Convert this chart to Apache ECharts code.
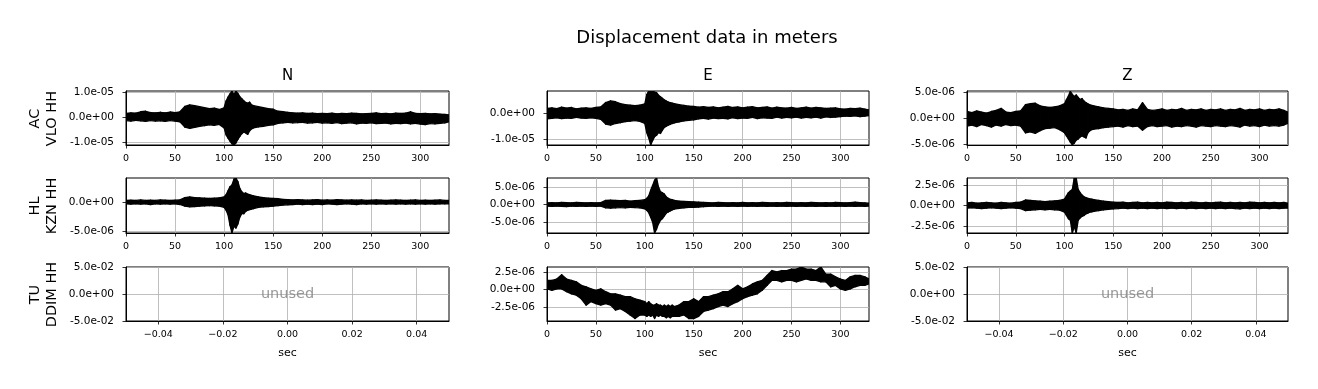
<!DOCTYPE html>
<html><head><meta charset="utf-8">
<script src="https://cdn.jsdelivr.net/npm/echarts@6/dist/echarts.min.js"></script>
<style>html,body{margin:0;padding:0;background:#fff}#c{width:1318px;height:389px}</style>
</head><body><div id="c"></div><script>
// time samples (sec)
const T = [0,5,10,15,20,25,30,35,40,45,50,55,60,65,70,75,80,85,90,95,
  100,102,104,106,108,110,112,114,116,118,120,122,124,126,128,130,
  135,140,145,150,155,160,165,170,175,180,185,190,195,200,205,210,215,220,225,230,
  235,240,245,250,255,260,265,270,275,280,285,290,295,300,305,310,315,320,325,329];
// envelope values (micrometres)
const acN_up = [1.6,1.8,1.7,2.2,2.4,1.9,1.8,2.0,1.8,2.1,1.9,2.2,4.3,4.9,4.6,4.2,3.8,3.4,3.6,3.1,
  3.8,6.5,8.0,9.3,10.4,9.0,10.4,9.5,8.2,7.4,6.6,5.9,5.6,6.0,4.9,4.6,
  4.2,3.8,3.4,3.2,2.4,2.2,2.0,1.8,1.7,1.8,1.6,1.7,1.5,1.6,
  1.5,1.7,1.4,1.6,1.5,1.7,1.6,1.4,1.5,1.6,1.8,1.5,1.6,1.4,1.7,1.6,1.7,2.2,1.6,1.5,1.6,1.4,1.5,1.3,1.2,1.0];
const acN_lo = [-1.3,-1.5,-1.2,-1.4,-1.6,-1.3,-1.5,-1.4,-1.6,-1.3,-1.5,-1.8,-3.9,-4.4,-4.0,-3.6,-3.3,-3.0,-3.2,-2.8,
  -4.2,-7.0,-8.3,-9.5,-10.5,-11.0,-10.2,-8.8,-7.6,-6.5,-5.8,-6.2,-6.8,-5.4,-4.6,-4.2,
  -3.8,-3.6,-3.2,-3.0,-2.4,-2.2,-2.0,-2.2,-2.1,-2.0,-2.3,-2.2,-2.0,-2.3,
  -2.2,-2.4,-2.1,-2.5,-2.3,-2.2,-2.6,-2.3,-2.4,-2.2,-2.5,-2.4,-2.3,-2.6,-2.4,-2.5,-2.3,-2.6,-2.4,-2.7,-2.9,-2.5,-2.6,-2.4,-2.2,-1.8];
const acE_up = [1.8,2.0,1.7,2.2,1.9,2.1,1.6,1.9,2.0,1.8,2.1,2.3,4.0,4.6,4.3,3.6,3.2,3.0,2.8,3.0,
  3.5,7.0,8.4,8.4,8.4,8.0,7.8,6.8,6.2,5.6,5.0,4.6,4.2,4.0,3.8,3.6,
  3.2,2.9,2.6,2.5,2.2,2.4,2.1,2.3,2.0,2.2,2.5,2.1,2.3,2.0,2.2,2.4,2.0,2.1,2.3,1.9,
  2.2,2.0,1.9,2.1,1.8,2.0,2.2,1.9,2.1,2.0,1.8,1.9,2.0,1.6,1.5,1.8,1.7,1.9,1.5,1.2];
const acE_lo = [-2.2,-2.0,-1.8,-2.1,-1.9,-2.0,-1.7,-1.9,-2.0,-1.8,-2.0,-2.4,-4.2,-4.6,-4.0,-3.7,-3.3,-3.1,-2.9,-3.2,
  -4.0,-7.5,-9.5,-12.2,-10.5,-9.0,-8.5,-7.5,-7.8,-6.5,-5.5,-5.0,-4.6,-4.3,-4.0,-3.8,
  -3.4,-3.0,-2.8,-2.6,-2.2,-2.0,-2.3,-1.9,-2.1,-2.0,-2.2,-1.8,-2.1,-1.9,-2.0,-1.7,-2.1,-1.8,-1.9,-2.0,
  -1.6,-1.9,-1.7,-1.8,-1.6,-1.9,-1.7,-1.8,-1.6,-1.9,-1.5,-1.7,-1.6,-1.4,-1.2,-1.3,-1.1,-1.4,-1.2,-1.0];
const acZ_up = [1.3,1.1,1.4,1.2,1.0,1.3,1.5,1.9,1.2,1.1,1.3,1.4,2.6,2.8,2.9,2.4,2.2,2.1,2.2,2.4,
  2.8,3.6,4.3,5.2,4.6,4.2,4.5,4.0,3.6,3.8,3.3,3.0,2.8,2.6,2.5,2.4,
  2.2,2.0,1.9,1.8,1.6,1.7,1.5,1.8,1.6,3.0,1.7,1.5,1.6,1.8,1.5,1.7,1.6,1.9,1.5,1.7,
  1.6,1.8,1.5,1.7,1.6,1.8,1.5,1.7,1.6,1.9,1.5,1.7,1.6,1.8,1.5,1.7,1.6,1.8,1.5,1.2];
const acZ_lo = [-1.5,-1.3,-1.6,-1.2,-1.4,-1.7,-1.3,-1.5,-1.2,-1.4,-1.3,-1.5,-2.8,-2.6,-2.9,-2.4,-2.0,-1.9,-1.8,-2.2,
  -2.8,-3.4,-4.0,-4.6,-5.1,-4.8,-4.2,-4.0,-3.6,-3.4,-3.6,-3.8,-2.8,-2.4,-2.2,-2.1,
  -2.0,-1.8,-1.7,-1.6,-1.5,-1.7,-1.4,-1.6,-1.5,-2.3,-1.6,-1.4,-1.6,-1.5,-1.4,-1.7,-1.5,-1.6,-1.4,-1.5,
  -1.7,-1.4,-1.5,-1.6,-1.4,-1.5,-1.6,-1.4,-1.5,-1.7,-1.3,-1.5,-1.4,-1.6,-1.3,-1.5,-1.4,-1.5,-1.3,-1.0];
const hlN_up = [0.3,0.35,0.3,0.4,0.3,0.35,0.3,0.4,0.35,0.3,0.35,0.4,0.8,0.9,0.8,0.75,0.7,0.65,0.7,0.75,
  0.9,1.3,2.0,2.7,3.0,4.0,4.2,3.6,2.4,1.8,1.5,1.6,1.4,1.3,1.2,1.1,
  0.9,0.8,0.7,0.65,0.6,0.5,0.45,0.4,0.45,0.4,0.35,0.4,0.45,0.35,0.4,0.35,0.45,0.4,0.35,0.4,
  0.35,0.4,0.3,0.35,0.4,0.35,0.3,0.35,0.4,0.35,0.3,0.35,0.4,0.3,0.35,0.3,0.35,0.4,0.3,0.3];
const hlN_lo = [-0.3,-0.35,-0.3,-0.35,-0.3,-0.4,-0.3,-0.35,-0.3,-0.35,-0.3,-0.4,-0.7,-0.8,-0.75,-0.7,-0.65,-0.6,-0.65,-0.7,
  -0.9,-1.4,-2.2,-4.0,-5.3,-4.2,-4.5,-3.8,-2.6,-2.0,-2.0,-1.6,-1.4,-1.3,-1.2,-1.1,
  -0.9,-0.8,-0.75,-0.7,-0.6,-0.5,-0.45,-0.4,-0.35,-0.4,-0.35,-0.4,-0.35,-0.4,-0.3,-0.35,-0.4,-0.35,-0.3,-0.35,
  -0.4,-0.3,-0.35,-0.3,-0.35,-0.3,-0.35,-0.3,-0.35,-0.3,-0.35,-0.3,-0.35,-0.3,-0.35,-0.3,-0.35,-0.3,-0.3,-0.3];
const hlE_up = [0.5,0.55,0.5,0.6,0.55,0.5,0.6,0.55,0.5,0.55,0.5,0.55,1.2,1.3,1.2,1.1,1.2,1.0,1.1,1.2,
  1.4,1.8,2.5,4.1,5.5,7.0,7.6,5.0,3.7,3.4,3.0,2.2,1.8,1.5,1.4,1.2,
  1.0,0.9,0.85,0.8,0.7,0.6,0.55,0.5,0.6,0.55,0.5,0.55,0.5,0.6,0.5,0.55,0.5,0.6,0.55,0.5,
  0.55,0.5,0.6,0.55,0.5,0.55,0.5,0.6,0.55,0.5,0.55,0.5,0.6,0.55,0.5,0.55,0.7,0.55,0.5,0.4];
const hlE_lo = [-0.45,-0.5,-0.45,-0.5,-0.55,-0.45,-0.5,-0.45,-0.5,-0.45,-0.5,-0.45,-0.9,-1.0,-0.9,-0.85,-0.9,-0.8,-0.85,-0.9,
  -1.2,-1.6,-2.3,-3.6,-5.0,-8.1,-7.0,-5.5,-4.5,-4.0,-3.2,-2.4,-2.1,-1.8,-1.5,-1.3,
  -1.1,-0.9,-0.8,-0.75,-0.7,-0.6,-0.5,-0.45,-0.5,-0.45,-0.5,-0.45,-0.5,-0.45,-0.5,-0.45,-0.5,-0.45,-0.5,-0.45,
  -0.5,-0.45,-0.5,-0.45,-0.5,-0.45,-0.5,-0.45,-0.5,-0.45,-0.5,-0.45,-0.5,-0.45,-0.5,-0.45,-0.5,-0.45,-0.5,-0.4];
const hlZ_up = [0.35,0.4,0.3,0.35,0.4,0.35,0.3,0.4,0.35,0.3,0.4,0.45,0.7,0.65,0.6,0.55,0.5,0.55,0.6,0.65,
  0.8,1.2,1.6,1.8,2.0,3.4,3.4,2.0,1.6,1.3,1.1,1.0,0.9,0.85,0.8,0.75,
  0.65,0.55,0.5,0.45,0.4,0.45,0.35,0.4,0.45,0.35,0.4,0.35,0.4,0.35,0.45,0.4,0.35,0.4,0.35,0.45,
  0.4,0.35,0.4,0.35,0.4,0.45,0.35,0.4,0.35,0.4,0.35,0.45,0.4,0.35,0.4,0.35,0.4,0.35,0.4,0.3];
const hlZ_lo = [-0.3,-0.25,-0.3,-0.35,-0.3,-0.25,-0.3,-0.35,-0.3,-0.25,-0.3,-0.35,-0.6,-0.55,-0.5,-0.45,-0.5,-0.45,-0.5,-0.55,
  -0.8,-1.2,-1.6,-1.8,-3.35,-2.6,-3.35,-1.8,-1.5,-1.3,-1.2,-1.0,-0.9,-0.8,-0.75,-0.7,
  -0.6,-0.5,-0.45,-0.4,-0.35,-0.3,-0.35,-0.3,-0.35,-0.3,-0.35,-0.3,-0.35,-0.3,-0.35,-0.3,-0.35,-0.3,-0.35,-0.3,
  -0.35,-0.3,-0.35,-0.3,-0.35,-0.3,-0.35,-0.3,-0.35,-0.4,-0.3,-0.35,-0.3,-0.35,-0.3,-0.35,-0.3,-0.35,-0.3,-0.3];
const tuE_up = [1.3,1.3,1.5,2.1,1.5,1.3,1.1,0.6,0.4,0.1,-0.1,0.1,-0.3,-0.6,-0.6,-0.8,-1.0,-1.0,-1.3,-1.5,
  -1.7,-2.0,-1.7,-2.0,-2.2,-2.2,-2.0,-2.2,-2.2,-2.4,-2.2,-2.4,-2.2,-2.4,-2.2,-2.4,
  -2.2,-1.7,-1.7,-1.3,-1.7,-1.0,-1.0,-0.8,-0.6,-0.3,-0.3,0.1,0.6,0.1,0.4,0.8,1.1,1.3,2.0,2.7,
  2.5,2.7,2.7,2.9,2.9,3.2,2.9,2.9,2.7,3.2,2.2,2.2,1.8,1.5,1.3,1.8,2.0,2.0,1.8,1.5];
const tuE_lo = [0.1,-0.1,0.1,0.1,-0.3,-0.6,-0.8,-1.3,-2.2,-1.7,-2.0,-2.2,-2.0,-2.2,-2.9,-2.7,-3.1,-3.6,-4.1,-3.6,
  -3.6,-3.8,-3.6,-3.8,-3.6,-4.1,-3.6,-3.8,-3.6,-3.8,-3.8,-4.0,-3.8,-4.0,-3.8,-3.8,
  -3.8,-3.6,-4.1,-4.1,-3.8,-3.1,-2.9,-2.7,-2.4,-2.2,-2.4,-2.0,-1.7,-1.3,-1.0,-0.8,-0.6,-0.1,0.6,1.3,
  1.3,1.1,1.3,1.3,1.1,1.3,1.5,1.3,1.3,1.1,1.1,0.4,0.6,0.1,-0.1,0.1,0.4,0.6,0.6,0.8];
const UNIT = 1e-6;

// tick values
const xTicksData = [0,50,100,150,200,250,300];
const xTicksUnused = [-0.04,-0.02,0,0.02,0.04];
const colTitles = ['N','E','Z'];
const rowLabels = ['AC\nVLO HH','HL\nKZN HH','TU\nDDIM HH'];

const panels = [
  {up:acN_up, lo:acN_lo, ymin:-1.1e-5, ymax:1.045e-5, yt:[-1e-5,0,1e-5]},
  {up:acE_up, lo:acE_lo, ymin:-1.22e-5, ymax:8.4e-6, yt:[-1e-5,0]},
  {up:acZ_up, lo:acZ_lo, ymin:-5.15e-6, ymax:5.25e-6, yt:[-5e-6,0,5e-6]},
  {up:hlN_up, lo:hlN_lo, ymin:-5.35e-6, ymax:4.2e-6, yt:[-5e-6,0]},
  {up:hlE_up, lo:hlE_lo, ymin:-8.1e-6, ymax:7.6e-6, yt:[-5e-6,0,5e-6]},
  {up:hlZ_up, lo:hlZ_lo, ymin:-3.35e-6, ymax:3.4e-6, yt:[-2.5e-6,0,2.5e-6]},
  {unused:true},
  {up:tuE_up, lo:tuE_lo, ymin:-4.45e-6, ymax:3.2e-6, yt:[-2.5e-6,0,2.5e-6]},
  {unused:true}
];

const FONT = 'DejaVu Sans';
const colLeft = [126, 547, 967], colWidth = [323, 322, 321];
const rowTop = [91, 178, 267], rowHeight = [54, 55, 54];

function efmt(v){
  let s = Number(v).toExponential(1);
  let parts = s.split('e');
  let sign = parts[1][0]; let d = parts[1].slice(1);
  if (d.length < 2) d = '0' + d;
  return parts[0] + 'e' + sign + d;
}
function ufmt(v){ return Number(v).toFixed(2).replace('-', '\u2212'); }

function bandItem(params, api){
  const a = api.coord([api.value(0), api.value(2)]);
  const b = api.coord([api.value(1), api.value(3)]);
  const c = api.coord([api.value(1), api.value(5)]);
  const d = api.coord([api.value(0), api.value(4)]);
  return {type:'polygon', shape:{points:[a,b,c,d]},
    style:{fill:'#000', stroke:'#000', lineWidth:1.3, lineJoin:'round'}};
}

const grids = [], xAxes = [], yAxes = [], series = [];
const gridLine = {show:true, lineStyle:{color:'#b0b0b0', width:0.8}};
panels.forEach((p, i) => {
  const r = Math.floor(i/3), c = i%3;
  grids.push({left:colLeft[c], top:rowTop[r], width:colWidth[c], height:rowHeight[r],
    show:true, borderColor:'#000', borderWidth:1, backgroundColor:'#fff', containLabel:false});
  const xt = p.unused ? xTicksUnused : xTicksData;
  xAxes.push({type:'value', gridIndex:i,
    min: p.unused ? -0.05 : 0, max: p.unused ? 0.05 : 329.2,
    axisLine:{show:true, onZero:false, lineStyle:{color:'#000', width:1}},
    axisTick:{show:true, length:3.5, lineStyle:{color:'#000', width:0.8}, customValues:xt},
    axisLabel:{show:true, customValues:xt, formatter: p.unused ? ufmt : (v => String(v)),
      fontSize:9.5, fontFamily:FONT, color:'#000', margin:9},
    splitLine: gridLine});
  const yt = p.unused ? [-0.05,0,0.05] : p.yt;
  yAxes.push({type:'value', gridIndex:i,
    min: p.unused ? -0.05 : p.ymin, max: p.unused ? 0.05 : p.ymax,
    axisLine:{show:true, onZero:false, lineStyle:{color:'#000', width:1}},
    axisTick:{show:true, length:3.5, lineStyle:{color:'#000', width:0.8}, customValues:yt},
    axisLabel:{show:true, customValues:yt, formatter: efmt, fontSize:10.5, fontFamily:FONT, color:'#000', margin:12,
      showMinLabel:true, showMaxLabel:true},
    splitLine: gridLine});
  if (p.unused) {
    series.push({type:'scatter', xAxisIndex:i, yAxisIndex:i, data:[[0,0]], symbolSize:1,
      itemStyle:{color:'rgba(0,0,0,0)'}, silent:true, z:5,
      label:{show:true, formatter:'unused', position:'inside', color:'#808080', fontSize:14.5, fontFamily:FONT}});
  } else {
    const segs = [];
    for (let k = 0; k < T.length - 1; k++) {
      segs.push([T[k], T[k+1], p.up[k]*UNIT, p.up[k+1]*UNIT, p.lo[k]*UNIT, p.lo[k+1]*UNIT]);
    }
    series.push({type:'custom', xAxisIndex:i, yAxisIndex:i, data:segs, renderItem:bandItem,
      clip:true, silent:true, z:3, encode:{x:[0,1], y:[2,3,4,5]}});
  }
});

const graphics = [
  {type:'text', x:707, y:38, style:{text:'Displacement data in meters', fontSize:18, fontFamily:FONT, fill:'#000', align:'center', verticalAlign:'middle'}}
];
colTitles.forEach((t, c) => graphics.push({type:'text', x:colLeft[c]+colWidth[c]/2, y:76,
  style:{text:t, fontSize:15, fontFamily:FONT, fill:'#000', align:'center', verticalAlign:'middle'}}));
rowLabels.forEach((t, r) => graphics.push({type:'text', x:44, y:rowTop[r]+rowHeight[r]/2+0.5, rotation:Math.PI/2,
  style:{text:t, fontSize:14.5, lineHeight:17, fontFamily:FONT, fill:'#000', align:'center', verticalAlign:'middle'}}));
[0,1,2].forEach(c => graphics.push({type:'text', x:colLeft[c]+colWidth[c]/2, y:353,
  style:{text:'sec', fontSize:11, fontFamily:FONT, fill:'#000', align:'center', verticalAlign:'middle'}}));

const chart = echarts.init(document.getElementById('c'), null, {renderer:'canvas'});
chart.setOption({animation:false, backgroundColor:'#fff', grid:grids, xAxis:xAxes, yAxis:yAxes, series:series, graphic:graphics});
</script></body></html>
